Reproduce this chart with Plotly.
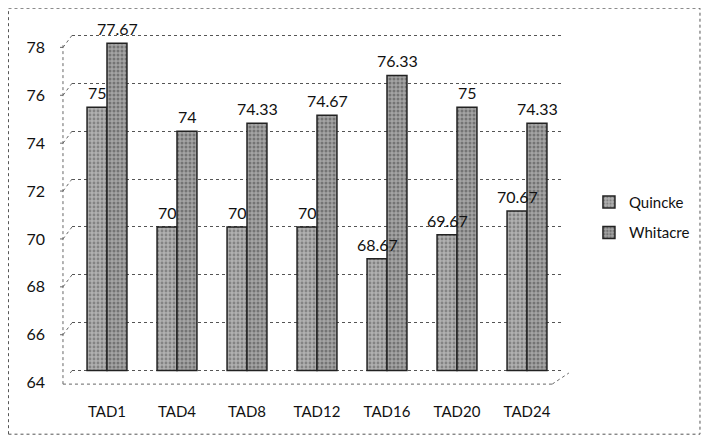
import plotly.graph_objects as go

categories = ["TAD1", "TAD4", "TAD8", "TAD12", "TAD16", "TAD20", "TAD24"]
quincke = [75, 70, 70, 70, 68.67, 69.67, 70.67]
whitacre = [77.67, 74, 74.33, 74.67, 76.33, 75, 74.33]
quincke_labels = ["75", "70", "70", "70", "68.67", "69.67", "70.67"]
whitacre_labels = ["77.67", "74", "74.33", "74.67", "76.33", "75", "74.33"]
y_ticks = [64, 66, 68, 70, 72, 74, 76, 78]

font_family = "Lato, 'Open Sans', sans-serif"
frame = dict(color="#666", width=1, dash="dot")

fig = go.Figure()
fig.add_trace(go.Bar(
    x=categories, y=[v - 64 for v in quincke], base=64, name="Quincke", legendgroup="q",
    marker=dict(color="#9c9c9c", line=dict(color="#222", width=1.5),
                pattern=dict(shape=".", fgcolor="#555555", bgcolor="#b0b0b0", size=4, solidity=0.4)),
))
fig.add_trace(go.Bar(
    x=categories, y=[v - 64 for v in whitacre], base=64, name="Whitacre", legendgroup="w",
    marker=dict(color="#8c8c8c", line=dict(color="#222", width=1.5),
                pattern=dict(shape=".", fgcolor="#444444", bgcolor="#a4a4a4", size=4, solidity=0.45)),
))

# value labels drawn on top of everything
for cat, v, lab in zip(categories, quincke, quincke_labels):
    fig.add_annotation(x=cat, y=v, text=lab, showarrow=False, xshift=-10, yshift=3,
                       yanchor="bottom", font=dict(size=16, color="#111", family=font_family))
for cat, v, lab in zip(categories, whitacre, whitacre_labels):
    fig.add_annotation(x=cat, y=v, text=lab, showarrow=False, xshift=10, yshift=3,
                       yanchor="bottom", font=dict(size=16, color="#111", family=font_family))

fig.update_layout(
    width=709, height=437,
    margin=dict(l=64, r=155, t=25, b=72, autoexpand=False),
    paper_bgcolor="white", plot_bgcolor="white",
    barmode="group", bargap=0.43, bargroupgap=0.0,
    font=dict(family=font_family, size=15, color="#111"),
    showlegend=True,
    legend=dict(x=1.055, y=0.458, xanchor="left", yanchor="middle",
                font=dict(size=15, color="#111"), itemwidth=30,
                traceorder="grouped", tracegroupgap=8,
                bgcolor="rgba(0,0,0,0)"),
    yaxis=dict(range=[63.9, 78.1], tickvals=y_ticks, showgrid=True,
               gridcolor="#555", griddash="dot", gridwidth=1,
               showline=False, ticks="", zeroline=False,
               tickfont=dict(size=16), ticklabelstandoff=26, ticklabelshift=12),
    xaxis=dict(showline=False, ticks="", tickfont=dict(size=15), ticklabelstandoff=28),
)

# front frame of the 3D box
fig.add_shape(type="line", xref="paper", yref="paper", x0=-0.0184, x1=-0.0184,
              y0=-0.0327, y1=0.964, line=frame)
fig.add_shape(type="line", xref="paper", yref="paper", x0=-0.0184, x1=0.98,
              y0=-0.0327, y1=-0.0327, line=frame)
fig.add_shape(type="line", xref="paper", yref="paper", x0=0.98, x1=1.014,
              y0=-0.0327, y1=0.0, line=frame)
for t in y_ticks:
    fig.add_shape(type="line", xref="paper", yref="y",
                  xsizemode="pixel", xanchor=0, x0=-9, x1=0,
                  ysizemode="pixel", yanchor=t, y0=-12, y1=0, line=frame)
    fig.add_shape(type="line", xref="paper", yref="y",
                  xsizemode="pixel", xanchor=0, x0=-12, x1=-9,
                  ysizemode="pixel", yanchor=t, y0=-12, y1=-12, line=frame)

# outer chart border
fig.add_shape(type="rect", xref="paper", yref="paper",
              x0=-0.1296, x1=1.2816, y0=-0.18, y1=1.073,
              line=dict(color="#555", width=1, dash="dot"))
fig.write_html("out.html")
